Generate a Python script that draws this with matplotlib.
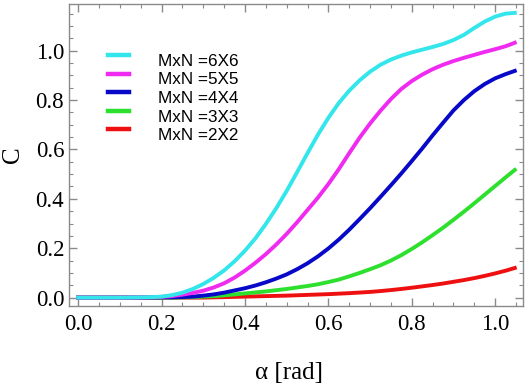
import matplotlib
matplotlib.use("Agg")
from matplotlib import pyplot as plt
from matplotlib.ticker import MultipleLocator

# alpha values (rad), every 0.025
alpha = [0.0, 0.025, 0.05, 0.075, 0.1, 0.125, 0.15, 0.175, 0.2, 0.225,
         0.25, 0.275, 0.3, 0.325, 0.35, 0.375, 0.4, 0.425, 0.45, 0.475,
         0.5, 0.525, 0.55, 0.575, 0.6, 0.625, 0.65, 0.675, 0.7, 0.725,
         0.75, 0.775, 0.8, 0.825, 0.85, 0.875, 0.9, 0.925, 0.95, 0.975,
         1.0, 1.025, 1.047]

c_6x6 = [0, 0, 0, 0, 0, 0.0005, 0.001, 0.002, 0.004, 0.01,
         0.02, 0.035, 0.055, 0.08, 0.11, 0.147, 0.19, 0.24, 0.298, 0.362,
         0.432, 0.508, 0.585, 0.66, 0.728, 0.788, 0.838, 0.88, 0.915, 0.943,
         0.964, 0.98, 0.993, 1.004, 1.015, 1.027, 1.043, 1.064, 1.092, 1.118,
         1.138, 1.15, 1.153]
c_5x5 = [0, 0, 0, 0, 0, 0.0003, 0.0006, 0.0015, 0.003, 0.006,
         0.012, 0.019, 0.028, 0.041, 0.058, 0.081, 0.109, 0.141, 0.176, 0.215,
         0.258, 0.305, 0.355, 0.405, 0.46, 0.52, 0.585, 0.648, 0.705, 0.757,
         0.804, 0.845, 0.877, 0.903, 0.925, 0.943, 0.958, 0.971, 0.983, 0.995,
         1.006, 1.018, 1.032]
c_4x4 = [0, 0, 0, 0, 0, 0, 0, 0.0003, 0.0006, 0.001,
         0.002, 0.004, 0.008, 0.013, 0.02, 0.029, 0.038, 0.049, 0.062, 0.077,
         0.094, 0.115, 0.139, 0.167, 0.199, 0.235, 0.275, 0.318, 0.362, 0.408,
         0.455, 0.503, 0.553, 0.604, 0.657, 0.708, 0.758, 0.80, 0.836, 0.865,
         0.888, 0.905, 0.918]
c_3x3 = [0, 0, 0, 0, 0, 0, 0, 0, 0, 0,
         0.001, 0.002, 0.004, 0.006, 0.009, 0.013, 0.017, 0.021, 0.025, 0.03,
         0.035, 0.041, 0.047, 0.054, 0.063, 0.073, 0.086, 0.10, 0.115, 0.131,
         0.15, 0.172, 0.197, 0.224, 0.253, 0.283, 0.315, 0.348, 0.382, 0.417,
         0.452, 0.487, 0.517]
c_2x2 = [0, 0, 0, 0, 0, 0, 0, 0, 0, 0,
         0, 0, 0, 0.001, 0.002, 0.003, 0.004, 0.005, 0.006, 0.007,
         0.008, 0.0095, 0.011, 0.0125, 0.014, 0.016, 0.018, 0.0205, 0.023, 0.0265,
         0.0305, 0.035, 0.04, 0.0455, 0.051, 0.057, 0.064, 0.071, 0.079, 0.088,
         0.098, 0.109, 0.12]

labels = ["MxN =6X6", "MxN =5X5", "MxN =4X4", "MxN =3X3", "MxN =2X2"]
colors = ["#33E6EC", "#F02AF0", "#0808C8", "#2EE02E", "#EE1010"]

W, H = 526, 385


def main():
    fig = plt.figure(figsize=(W / 100, H / 100), dpi=100)
    ax = fig.add_axes([69 / W, 1 - 306 / H, 453.7 / W, 302 / H])

    series = [c_6x6, c_5x5, c_4x4, c_3x3, c_2x2]
    # lowest curve first so the upper ones lie on top along zero
    for ys, col in reversed(list(zip(series, colors))):
        ax.plot(alpha, ys, color=col, lw=2.8, solid_joinstyle="round")

    ax.set_xlim(-0.022, 1.066)
    ax.set_ylim(-0.034, 1.189)

    ax.xaxis.set_major_locator(MultipleLocator(0.2))
    ax.xaxis.set_minor_locator(MultipleLocator(0.05))
    ax.yaxis.set_major_locator(MultipleLocator(0.2))
    ax.yaxis.set_minor_locator(MultipleLocator(0.05))
    ax.xaxis.set_major_formatter(lambda v, p: f"{v:.1f}")
    ax.yaxis.set_major_formatter(lambda v, p: f"{v:.1f}")

    frame_col = "#8a8a8a"
    for s in ax.spines.values():
        s.set_color(frame_col)
        s.set_linewidth(1.0)
    ax.tick_params(which="both", direction="in", top=True, right=True,
                   color=frame_col, labelsize=16.5)
    ax.tick_params(axis="x", pad=6)
    ax.tick_params(axis="y", pad=3.5)
    ax.tick_params(which="major", length=6, width=1.0)
    ax.tick_params(which="minor", length=3, width=0.8)
    for t in ax.get_xticklabels() + ax.get_yticklabels():
        t.set_fontfamily("Liberation Serif")

    ax.set_xlabel("α [rad]", fontsize=18, family="Liberation Serif")
    ax.set_ylabel("C", fontsize=18, family="Liberation Serif")
    ax.xaxis.set_label_coords(0.485, -0.185)
    ax.yaxis.set_label_coords(-0.10, 0.5)

    # legend drawn by hand: short line handles with the text below-right
    for i, (lab, col) in enumerate(zip(labels, colors)):
        base = 66 + 18.5 * i
        hy = 1 - (base - 11) / H
        fig.add_artist(plt.Line2D([108 / W, 129 / W], [hy, hy], color=col,
                                  lw=3.2, transform=fig.transFigure))
        fig.text(158 / W, 1 - base / H, lab, fontsize=12.3,
                 family="Liberation Sans", va="baseline", ha="left")

    fig.savefig("out.png", dpi=100)


if __name__ == "__main__":
    main()
